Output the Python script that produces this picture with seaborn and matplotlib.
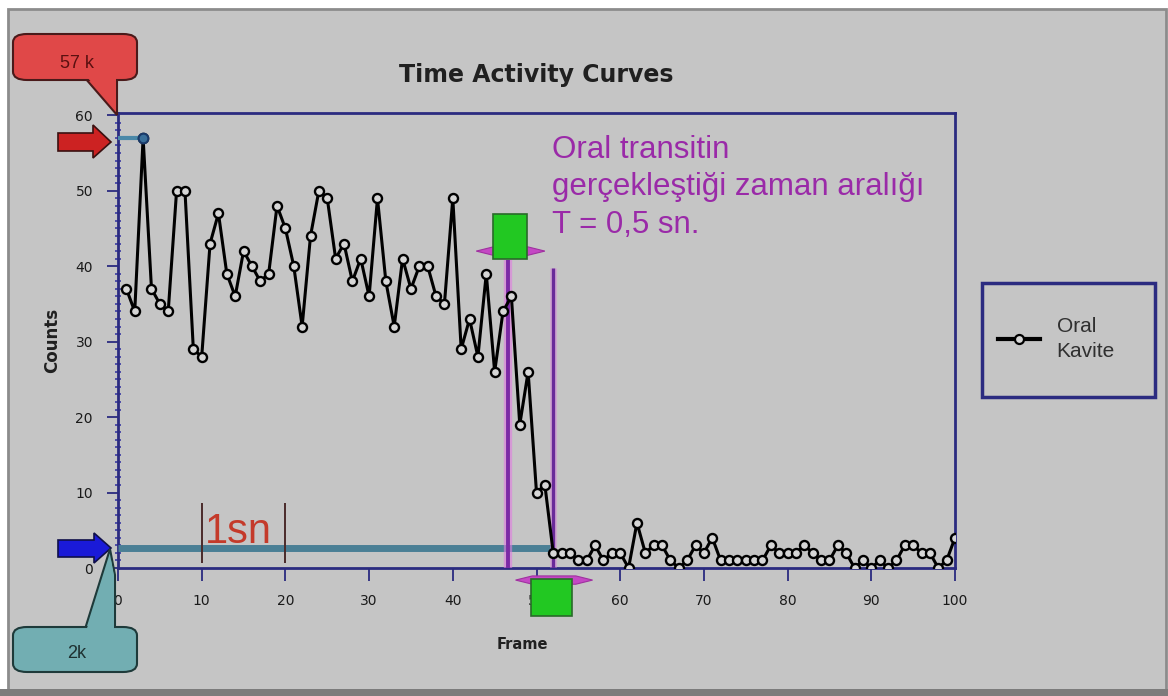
import numpy as np
import pandas as pd
import seaborn as sns
import matplotlib
matplotlib.use("Agg")
import matplotlib.pyplot as plt
from matplotlib.patches import FancyBboxPatch, Rectangle, Polygon
from matplotlib.lines import Line2D
from matplotlib.ticker import MultipleLocator

# ---------------- data ----------------
frames = list(range(1, 101))
counts = [37, 34, 57, 37, 35, 34, 50, 50, 29, 28,
          43, 47, 39, 36, 42, 40, 38, 39, 48, 45,
          40, 32, 44, 50, 49, 41, 43, 38, 41, 36,
          49, 38, 32, 41, 37, 40, 40, 36, 35, 49,
          29, 33, 28, 39, 26, 34, 36, 19, 26, 10,
          11, 2, 2, 2, 1, 1, 3, 1, 2, 2,
          0, 6, 2, 3, 3, 1, 0, 1, 3, 2,
          4, 1, 1, 1, 1, 1, 1, 3, 2, 2,
          2, 3, 2, 1, 1, 3, 2, 0, 1, 0,
          1, 0, 1, 3, 3, 2, 2, 0, 1, 4]
x_ticks = list(range(0, 101, 10))
y_ticks = list(range(0, 61, 10))
series_label = "Oral\nKavite"
title = "Time Activity Curves"
x_label = "Frame"
y_label = "Counts"
transit_text = "Oral transitin\ngerçekleştiği zaman aralığı\nT = 0,5 sn."
transit_start, transit_end = 46.6, 52.0
baseline_level = 2.6
second_marks = [10, 20]

df = pd.DataFrame({"Frame": frames, "Counts": counts})

W, H = 1168, 696
BG = "#c5c5c5"
NAVY = "#2b2b80"

fig = plt.figure(figsize=(W / 100, H / 100), dpi=100, facecolor="white")


def P(x, y):
    return (x / W, 1 - y / H)


# outer gray panel
fig.add_artist(Rectangle(P(8, 690), (1166 - 8) / W, (690 - 9) / H, transform=fig.transFigure,
                         facecolor=BG, edgecolor="#8c8c8c", lw=2, zorder=0))
fig.add_artist(Rectangle(P(0, 696), 1, 7 / H, transform=fig.transFigure,
                         facecolor="#7c7c7c", edgecolor="none", zorder=0))

ax = fig.add_axes([118 / W, 1 - 568 / H, (955 - 118) / W, (568 - 113) / H])
ax.set_facecolor(BG)

sns.lineplot(data=df, x="Frame", y="Counts", ax=ax, color="black", linewidth=2.2,
             marker="o", markersize=6.5, markerfacecolor="#d6d6d6",
             markeredgecolor="black", markeredgewidth=1.7, legend=False, zorder=5)

ax.set_xlim(0, 100)
ax.set_ylim(0, 60.3)
ax.set_xticks(x_ticks)
ax.set_yticks(y_ticks)
ax.yaxis.set_minor_locator(MultipleLocator(1))
ax.tick_params(axis="x", which="major", length=9, width=1.3, color=NAVY, pad=10,
               labelsize=10, labelcolor="#1a1a1a", direction="out")
ax.tick_params(axis="y", which="major", length=8, width=1.3, color=NAVY, pad=10,
               labelsize=10, labelcolor="#1a1a1a", direction="out")
ax.tick_params(axis="y", which="minor", length=5, width=1.1, color="#3030a0", direction="inout")
for s in ax.spines.values():
    s.set_color(NAVY)
    s.set_linewidth(2)

ax.set_xlabel(x_label, fontweight="bold", fontsize=10.5, color="#202020")
ax.set_ylabel(y_label, fontweight="bold", fontsize=12, color="#202020")
ax.xaxis.set_label_coords(0.483, -0.152)
ax.yaxis.set_label_coords(-0.068, 0.5)
ax.set_title(title, fontweight="bold", fontsize=17, color="#202020", pad=22)

# peak marker and level line
peak_i = int(np.argmax(counts))
ax.hlines(counts[peak_i], 0, frames[peak_i], color="#4a88a8", lw=3, zorder=4, clip_on=False)
ax.plot(frames[peak_i], counts[peak_i], "o", ms=7, mfc="#3a6f9a", mec="#1a3a6a", mew=1.5, zorder=6)

# baseline level
ax.hlines(baseline_level, 0, transit_end, color="#4a7f95", lw=5, zorder=3)

# 1 second marks
ax.vlines(second_marks, 0.7, 8.6, color="#4a2a2a", lw=1.4, zorder=4)
ax.text(second_marks[0] + 0.4, 3.3, "1sn", color="#c43a2a", fontsize=30,
        family="Liberation Sans", ha="left", va="baseline", zorder=6)

# transit vertical lines
ax.vlines(transit_start, 0, 40.8, color="#e07ae0", lw=6, alpha=0.6, zorder=4)
ax.vlines(transit_start, 0, 40.8, color="#7b2aa5", lw=2.8, zorder=4)
ax.vlines(transit_end, 0, 39.7, color="#e07ae0", lw=5, alpha=0.4, zorder=4)
ax.vlines(transit_end, 0, 39.7, color="#6a2a9a", lw=2.4, zorder=4)


# green markers with magenta brims
def brim(xc, y, half):
    return Polygon([(xc - half, y), (xc - half + 2.0, y + 0.55), (xc + half - 2.0, y + 0.55),
                    (xc + half, y), (xc + half - 2.0, y - 0.55), (xc - half + 2.0, y - 0.55)],
                   closed=True, facecolor="#c448c4", edgecolor="#a030a0", lw=0.8,
                   zorder=7, clip_on=False)


ax.add_patch(brim(46.9, 42.0, 4.1))
ax.add_patch(Rectangle((44.8, 41.0), 4.1, 5.9, facecolor="#22c822", edgecolor="#2a6a2a",
                       lw=1.2, zorder=8, clip_on=False))
ax.add_patch(Rectangle((49.3, -6.3), 4.9, 4.9, facecolor="#22c822", edgecolor="#2a6a2a",
                       lw=1.2, zorder=8, clip_on=False))
ax.add_patch(brim(52.1, -1.6, 4.6))

# transit annotation text
ax.text(51.9, 57.4, transit_text, color="#9a2aa8", fontsize=22.5, family="Liberation Sans",
        ha="left", va="top", linespacing=1.33, zorder=6)

# legend box
fig.add_artist(Rectangle(P(982, 397), (1155 - 982) / W, (397 - 283) / H, transform=fig.transFigure,
                         facecolor=BG, edgecolor=NAVY, lw=2.5, zorder=2))
handle = Line2D([], [], color="black", lw=3, marker="o", ms=6.5, mfc="#d6d6d6",
                mec="black", mew=1.6)
leg = fig.legend([handle], [series_label], loc="center left", bbox_to_anchor=P(988, 339),
                 frameon=False, handlelength=2.0, handletextpad=0.8, borderpad=0,
                 prop={"family": "Liberation Sans", "size": 15}, labelcolor="#303030")
for t in leg.get_texts():
    t.set_linespacing(1.45)

# red callout "57 k"
fig.add_artist(Polygon([P(85, 78), P(117, 78), P(117, 115)], closed=True, transform=fig.transFigure,
                       facecolor="#e04848", edgecolor="#4a1a1a", lw=1.5, zorder=9))
fig.add_artist(FancyBboxPatch(P(13, 80), 124 / W, 46 / H, boxstyle="round,pad=0,rounding_size=0.012",
                              transform=fig.transFigure, facecolor="#e04848",
                              edgecolor="#4a1a1a", lw=1.5, zorder=9))
fig.add_artist(Polygon([P(86, 76), P(116, 76), P(116, 110)], closed=True, transform=fig.transFigure,
                       facecolor="#e04848", edgecolor="none", zorder=9))
fig.text(*P(77, 63), "57 k", ha="center", va="center", fontsize=13, color="#5a1010",
         family="Liberation Sans", zorder=10)

# red arrow
fig.add_artist(Polygon([P(58, 133), P(93, 133), P(93, 125), P(111, 142), P(93, 158),
                        P(93, 151), P(58, 151)], closed=True, transform=fig.transFigure,
                       facecolor="#cc2222", edgecolor="#3a1010", lw=1.2, zorder=9))

# blue arrow
fig.add_artist(Polygon([P(58, 540), P(94, 540), P(94, 533), P(111, 548), P(94, 563),
                        P(94, 557), P(58, 557)], closed=True, transform=fig.transFigure,
                       facecolor="#1a1ad8", edgecolor="#10104a", lw=1.2, zorder=9))

# teal callout "2k"
fig.add_artist(Polygon([P(85, 629), P(115, 629), P(115, 575), P(110, 549)], closed=True,
                       transform=fig.transFigure, facecolor="#72aeb2", edgecolor="#1e3a3a",
                       lw=1.5, zorder=9))
fig.add_artist(FancyBboxPatch(P(13, 672), 124 / W, 45 / H, boxstyle="round,pad=0,rounding_size=0.012",
                              transform=fig.transFigure, facecolor="#72aeb2",
                              edgecolor="#1e3a3a", lw=1.5, zorder=9))
fig.add_artist(Polygon([P(86, 631), P(114, 631), P(114, 577), P(111, 560)], closed=True,
                       transform=fig.transFigure, facecolor="#72aeb2", edgecolor="none", zorder=9))
fig.text(*P(77, 653), "2k", ha="center", va="center", fontsize=13, color="#1e3030",
         family="Liberation Sans", zorder=10)

fig.savefig("out.png", dpi=100, facecolor="white")
